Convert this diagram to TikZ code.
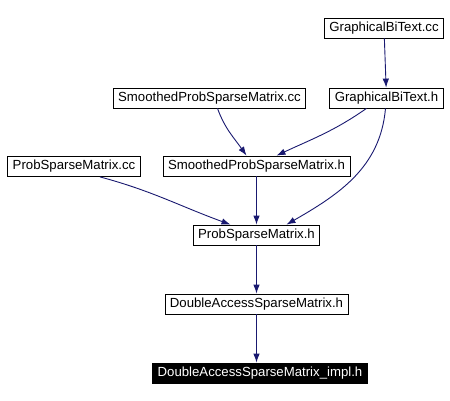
\documentclass[tikz,border=0pt]{standalone}
\usepackage{fontspec}
\setmainfont{Liberation Sans}
\usetikzlibrary{arrows.meta}
\definecolor{edgeblue}{RGB}{25,25,112}
\tikzstyle{file} = [draw, fill=white, rectangle, line width=0.8pt,
    inner xsep=5pt, inner ysep=2pt, minimum height=20pt,
    font=\fontsize{13.2}{15}\selectfont]
\tikzstyle{current} = [file, fill=black, text=white]
\tikzstyle{dep} = [->, draw=edgeblue, line width=0.9pt]

\begin{document}
\begin{tikzpicture}[x=1pt, y=-1pt, node distance=69pt, >={Latex[length=9pt,width=6.5pt]}]
    \useasboundingbox (0,0) rectangle (450,401);
    \node [file] (gbtcc) at (384,28) {GraphicalBiText.cc};
    \node [file] (gbth) at (386.5,98) {GraphicalBiText.h};
    \node [file] (smcc) at (209.5,98) {SmoothedProbSparseMatrix.cc};
    \node [file] (psmcc) at (74,166.5) {ProbSparseMatrix.cc};
    \node [file] (smh) at (256.5,166) {SmoothedProbSparseMatrix.h};
    \node [file, below of=smh] (psmh) {ProbSparseMatrix.h};
    \node [file, below of=psmh] (dash) {DoubleAccessSparseMatrix.h};
    \node [current] (impl) at (260,373) {DoubleAccessSparseMatrix\_impl.h};
    \draw [dep] (gbtcc) -- (gbth);
    \draw [dep] ([xshift=8pt]smcc.south) to[out=-70,in=125] ([xshift=-10pt]smh.north);
    \draw [dep] ([xshift=-20pt]gbth.south) to[out=-145,in=25] ([xshift=20pt]smh.north);
    \draw [dep] ([xshift=-1pt]gbth.south) to[out=-95,in=30] ([xshift=30pt]psmh.north);
    \draw [dep] ([xshift=26pt]psmcc.south) to[out=-15,in=160] ([xshift=-26pt]psmh.north);
    \draw [dep] (smh) -- (psmh);
    \draw [dep] (psmh) -- (dash);
    \draw [dep] (dash.south) -- (dash.south |- impl.north);
\end{tikzpicture}
\end{document}
